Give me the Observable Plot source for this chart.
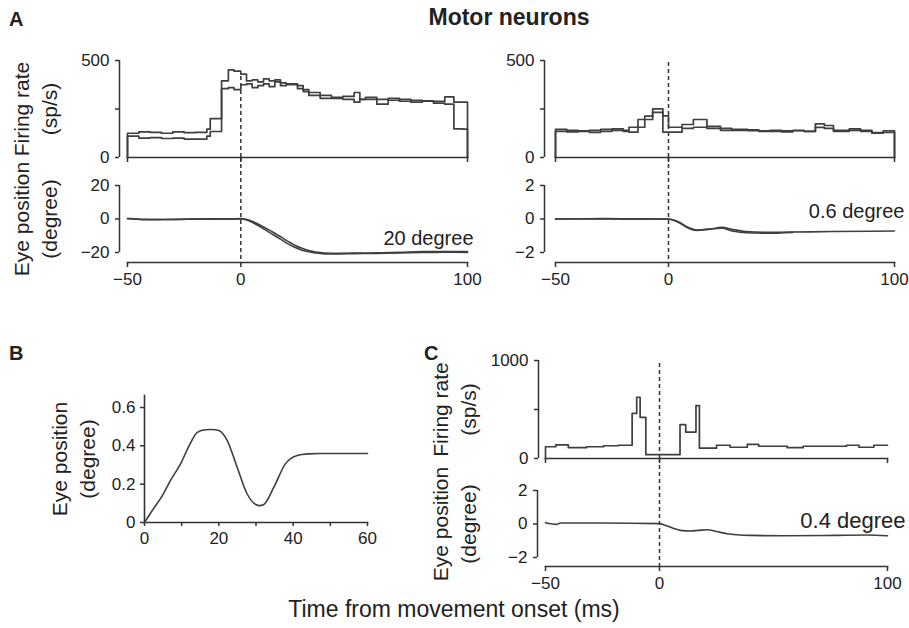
<!DOCTYPE html>
<html><head><meta charset="utf-8">
<script src="https://cdn.jsdelivr.net/npm/d3@7"></script>
<script src="https://cdn.jsdelivr.net/npm/@observablehq/plot@0.6"></script>
<style>
body{margin:0;background:#fff;}
#fig{position:relative;width:909px;height:628px;font-family:"Liberation Sans",Arial,Helvetica,sans-serif;color:#222;overflow:hidden;background:#fff}
.t{position:absolute;white-space:nowrap;line-height:1}
</style></head><body><div id="fig"></div>
<script>
// ---------- Panel A, left (20 degree saccade) ----------
const aLeftEdges = [-50,-45,-40,-35,-30,-25,-20,-15,-13.5,-8.5,-5.5,-3,0,2.5,5,7.5,10,12.5,15,17.5,20,25,27.5,30,35,40,45,50,52.5,55,60,65,70,75,80,85,90,94,98];
const aLeftRate1 = [125,132,130,125,132,128,130,146,200,395,452,445,430,395,400,390,405,395,400,385,380,370,350,335,320,310,315,335,300,310,300,305,290,295,292,290,312,285,285];
const aLeftRate2 = [110,100,102,98,100,95,95,110,134,355,360,350,375,380,360,370,380,365,390,370,375,355,340,320,305,305,300,285,300,300,275,295,300,285,290,280,275,148,146];
const eyeALeftTime = [-50,-40,-30,-20,-10,-5,0,3,6,9,12,15,18,21,24,27,30,33,37,42,50,60,70,80,90,100];
const eyeALeft1 = [0.3,-0.4,-0.2,0,0.1,0,0.2,-0.5,-2,-4,-6.2,-8.5,-11,-13.5,-15.8,-17.5,-18.8,-19.7,-20.3,-20.5,-20.4,-20.2,-19.9,-19.5,-19.4,-19.5];
const eyeALeft2 = [0.2,-0.3,-0.3,-0.1,0,0.1,0,-0.8,-2.7,-5,-7.5,-10,-12.5,-15,-17,-18.6,-19.6,-20.3,-20.8,-20.9,-20.7,-20.5,-20.3,-20.0,-19.8,-19.9];

// ---------- Panel A, right (0.6 degree saccade) ----------
const aRightEdges = [-50,-45,-40,-35,-30,-25,-20,-17.5,-13.5,-10.5,-7,-2.5,0,6,11,17,23,28,35,40,45,50,55,60,65,69,73,80,85,90,95];
const aRightRate1 = [145,140,138,140,145,148,140,156,196,213,251,215,156,170,196,160,150,145,142,138,140,138,140,135,173,165,140,148,140,128,138];
const aRightRate2 = [135,132,135,130,135,140,135,131,156,196,233,131,131,150,156,150,140,140,138,135,135,132,138,135,155,150,135,140,135,125,130];
const eyeARightTime1 = [-50,-30,-10,0,4.3,8.8,12.5,17.7,23.7,28.1,34,43,55,72.8,100];
const eyeARight1 = [0,0.02,0,0,-0.16,-0.5,-0.66,-0.62,-0.5,-0.62,-0.75,-0.8,-0.78,-0.75,-0.72];
const eyeARightTime2 = [-50,-30,-10,0,4.3,8.8,12.5,17.7,23.7,28.1,34,43,55];
const eyeARight2 = [0,0,0.01,0,-0.2,-0.55,-0.68,-0.6,-0.55,-0.72,-0.82,-0.85,-0.8];

// ---------- Panel B ----------
const bTime = [0,2,4.8,7,9.7,12,14.2,16.4,18,20,22.2,24.9,27.6,29.9,31,32.1,34.8,37.9,41.1,44,47,60];
const bEye = [0,0.06,0.14,0.22,0.306,0.4,0.47,0.484,0.485,0.48,0.43,0.29,0.15,0.094,0.088,0.094,0.184,0.306,0.35,0.358,0.36,0.36];

// ---------- Panel C ----------
const cEdges = [-50,-45.5,-40,-32,-24.5,-18,-12,-10,-8.5,-6,9,11.5,16,17.5,25,31,38.5,43.5,56,63,82,87.5,94];
const cRate = [120,140,110,120,130,135,460,625,420,40,345,270,540,105,135,115,145,125,110,125,135,115,135];
const eyeCTime = [-50,-45,-43.5,-26,0,3.4,6,9.2,13.6,17,20.9,25,29.7,34,39.9,54.5,76.5,91,100];
const eyeC = [0.08,-0.02,0.06,0.06,0.02,-0.12,-0.25,-0.38,-0.42,-0.38,-0.34,-0.45,-0.58,-0.64,-0.68,-0.7,-0.68,-0.66,-0.7];

// ---------- Tick values / labels ----------
const timeTicks = [-50, 0, 100];
const fr500Ticks = [0, 250, 500], fr500Labels = [0, 500];
const fr1000Ticks = [0, 500, 1000], fr1000Labels = [0, 1000];
const eye20Ticks = [-20, 0, 20];
const eye2Ticks = [-2, 0, 2];
const bYTicks = [0, 0.2, 0.4, 0.6];
const bXTicks = [0, 10, 20, 30, 40, 50, 60], bXLabels = [0, 20, 40, 60];

// ---------- helpers ----------
const fig = document.getElementById("fig");
const INK = "#333";
const LINE = "#3f3f3f";
const FONT = '"Liberation Sans", Arial, Helvetica, sans-serif';
const TICKFONT = 17;
const LABELFONT = 21;
const minus = d => (d < 0 ? "\u2212" + Math.abs(d) : String(d));
function mount(svg, left, top) {
  svg.style.position = "absolute";
  svg.style.left = left + "px";
  svg.style.top = top + "px";
  svg.style.overflow = "visible";
  svg.style.background = "transparent";
  fig.appendChild(svg);
}
function html(text, left, top, css) {
  const d = document.createElement("div");
  d.className = "t";
  d.textContent = text;
  d.style.left = left + "px";
  d.style.top = top + "px";
  Object.assign(d.style, css || {});
  fig.appendChild(d);
  return d;
}
function hist(edges, rates, end, closeRight) {
  const pts = [{x: edges[0], y: 0}];
  edges.forEach((e, i) => pts.push({x: e, y: rates[i]}));
  pts.push({x: end, y: rates[rates.length - 1]});
  if (closeRight) pts.push({x: end, y: 0});
  return pts;
}
function series(t, v) { return t.map((x, i) => ({x, y: v[i]})); }
function rateAt(edges, rates, x) { return rates[d3.bisectRight(edges, x) - 1]; }
function yLabel(text, dx, yOpt) {
  return Plot.text([text], {
    frameAnchor: "left", dx, rotate: -90, textAnchor: "middle", lineAnchor: "middle",
    lineHeight: 1.33, fontSize: LABELFONT, fill: "#222", ...(yOpt || {})
  });
}
const baseStyle = {fontFamily: FONT, color: INK, background: "transparent", overflow: "visible"};

function firingPlot(o) {
  const marks = [
    Plot.ruleX([-50], {y1: 0, y2: o.yMax, dx: o.axisDx, stroke: INK, strokeWidth: 1.5}),
    Plot.axisY({ticks: o.yTicks, tickFormat: d => (o.yLabels.includes(d) ? minus(d) : ""), dx: o.axisDx,
      tickSize: 4, tickPadding: 6, fontSize: TICKFONT, label: null, strokeWidth: 1.5, fill: "#222"}),
    Plot.axisX({ticks: timeTicks, tickFormat: () => "", tickSize: 5, label: null, strokeWidth: 1.5}),
    Plot.frame({anchor: "bottom", stroke: INK, strokeWidth: 1.6}),
    Plot.ruleX([0], {y1: 0, y2: o.dashTop, stroke: INK, strokeWidth: 1.5, strokeDasharray: "4,3"}),
    ...o.traces.map(t => Plot.line(t, {x: "x", y: "y", curve: "step-after", stroke: LINE, strokeWidth: 1.7}))
  ];
  if (o.label) marks.push(yLabel(o.label, o.labelDx));
  return Plot.plot({
    width: o.width, height: o.height, marginLeft: o.ml, marginRight: o.mr, marginTop: o.mt, marginBottom: o.mb,
    x: {domain: [-50, 100]}, y: {domain: [0, o.yMax]}, style: baseStyle, marks
  });
}
function eyePlot(o) {
  const marks = [
    Plot.ruleX([-50], {y1: o.yTicks[0], y2: o.yTicks[o.yTicks.length - 1], dx: o.axisDx, stroke: INK, strokeWidth: 1.5}),
    Plot.axisY({ticks: o.yTicks, tickFormat: minus, dx: o.axisDx, tickSize: 4, tickPadding: 6,
      fontSize: TICKFONT, label: null, strokeWidth: 1.5, fill: "#222"}),
    Plot.axisX({ticks: timeTicks, tickFormat: minus, tickSize: 5, tickPadding: 5, fontSize: TICKFONT,
      label: null, strokeWidth: 1.5, fill: "#222"}),
    Plot.frame({anchor: "bottom", stroke: INK, strokeWidth: 1.6}),
    Plot.ruleX([0], {stroke: INK, strokeWidth: 1.5, strokeDasharray: "4,3"}),
    ...o.traces.map(t => Plot.line(t, {x: "x", y: "y", curve: "monotone-x", stroke: LINE, strokeWidth: 1.6})),
    Plot.text([o.note], {x: [100], y: [0], textAnchor: "end", dx: o.noteDx, dy: o.noteDy, fontSize: o.noteSize, fill: "#222"})
  ];
  if (o.label) marks.push(yLabel(o.label, o.labelDx, {y: [0], frameAnchor: "left"}));
  return Plot.plot({
    width: o.width, height: o.height, marginLeft: o.ml, marginRight: o.mr, marginTop: o.mt, marginBottom: o.mb,
    x: {domain: [-50, 100]}, y: {domain: o.yDomain, range: o.yRange}, style: baseStyle, marks
  });
}

// ---------- Panel A left ----------
mount(firingPlot({
  width: 480, height: 130, ml: 127, mr: 13, mt: 20, mb: 13, yMax: 500,
  yTicks: fr500Ticks, yLabels: fr500Labels, axisDx: -8,
  dashTop: Math.max(rateAt(aLeftEdges, aLeftRate1, 0), rateAt(aLeftEdges, aLeftRate2, 0)),
  traces: [hist(aLeftEdges, aLeftRate1, 100, true), hist(aLeftEdges, aLeftRate2, 100, true)],
  label: "Firing rate\n(sp/s)", labelDx: -93
}), 0, 40);
mount(eyePlot({
  width: 480, height: 140, ml: 127, mr: 13, mt: 0, mb: 35, yDomain: [-20, 20], yRange: [95, 28],
  yTicks: eye20Ticks, axisDx: -8,
  traces: [series(eyeALeftTime, eyeALeft1), series(eyeALeftTime, eyeALeft2)],
  note: "20 degree", noteDx: 6, noteDy: 20, noteSize: 20,
  label: "Eye position\n(degree)", labelDx: -93
}), 0, 157);

// ---------- Panel A right ----------
mount(firingPlot({
  width: 472, height: 130, ml: 115, mr: 18, mt: 20, mb: 13, yMax: 500,
  yTicks: fr500Ticks, yLabels: fr500Labels, axisDx: -11, dashTop: 500,
  traces: [hist(aRightEdges, aRightRate1, 100, true), hist(aRightEdges, aRightRate2, 100, true)]
}), 440, 40);
mount(eyePlot({
  width: 472, height: 140, ml: 115, mr: 18, mt: 0, mb: 35, yDomain: [-2, 2], yRange: [95, 28],
  yTicks: eye2Ticks, axisDx: -11,
  traces: [series(eyeARightTime1, eyeARight1), series(eyeARightTime2, eyeARight2)],
  note: "0.6 degree", noteDx: 10, noteDy: -7, noteSize: 20
}), 440, 157);

// ---------- Panel B ----------
mount(Plot.plot({
  width: 390, height: 182, marginLeft: 144, marginRight: 23, marginTop: 20, marginBottom: 35,
  x: {domain: [0, 60]}, y: {domain: [0, 0.6], range: [147, 32]}, style: baseStyle,
  marks: [
    Plot.frame({anchor: "left", stroke: INK, strokeWidth: 1.6}),
    Plot.frame({anchor: "bottom", stroke: INK, strokeWidth: 1.6}),
    Plot.axisY({ticks: bYTicks, tickFormat: d => (d === 0 ? "0" : d3.format(".1f")(d)), tickSize: 4, tickPadding: 5,
      fontSize: TICKFONT, label: null, strokeWidth: 1.5, fill: "#222"}),
    Plot.axisX({ticks: bXTicks, tickFormat: d => (bXLabels.includes(d) ? String(d) : ""), tickSize: 4, tickPadding: 5,
      fontSize: TICKFONT, label: null, strokeWidth: 1.5, fill: "#222"}),
    Plot.line(series(bTime, bEye), {x: "x", y: "y", curve: "monotone-x", stroke: LINE, strokeWidth: 1.6}),
    yLabel("Eye position\n(degree)", -72)
  ]
}), 0, 375);

// ---------- Panel C ----------
mount(firingPlot({
  width: 475, height: 130, ml: 115, mr: 18, mt: 20, mb: 12, yMax: 1000,
  yTicks: fr1000Ticks, yLabels: fr1000Labels, axisDx: -7, dashTop: 1000,
  traces: [hist(cEdges, cRate, 100, false)],
  label: "Firing rate\n(sp/s)", labelDx: -92
}), 430, 340);
mount(eyePlot({
  width: 475, height: 140, ml: 115, mr: 18, mt: 0, mb: 32, yDomain: [-2, 2], yRange: [99, 32],
  yTicks: eye2Ticks, axisDx: -8,
  traces: [series(eyeCTime, eyeC)],
  note: "0.4 degree", noteDx: 18, noteDy: -3, noteSize: 22,
  label: "Eye position\n(degree)", labelDx: -92
}), 430, 458);

// ---------- Titles and panel letters ----------
html("A", 9, 9, {fontWeight: "bold", fontSize: "20px"});
html("B", 9, 343, {fontWeight: "bold", fontSize: "20px"});
html("C", 424, 343, {fontWeight: "bold", fontSize: "20px"});
html("Motor neurons", 509, 6, {fontWeight: "bold", fontSize: "23px", transform: "translateX(-50%)"});
html("Time from movement onset (ms)", 454, 598, {fontSize: "23px", transform: "translateX(-50%)"});
</script></body></html>
